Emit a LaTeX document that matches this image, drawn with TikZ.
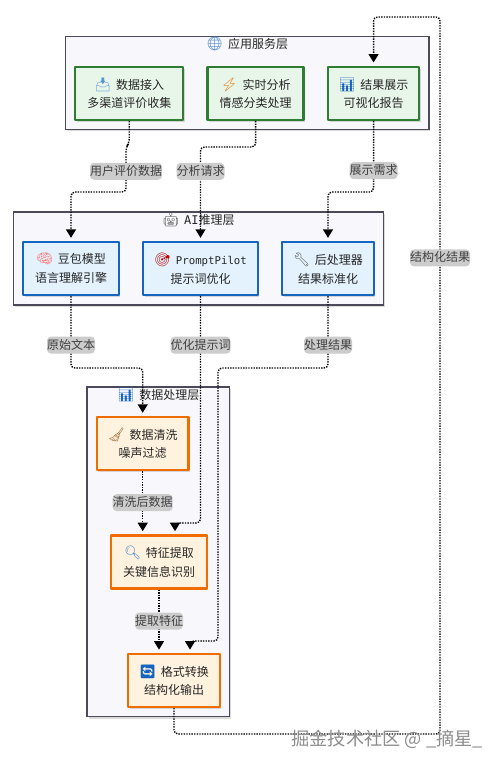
\documentclass[tikz,border=0pt]{standalone}
\usepackage{fontspec}
\usepackage{xcolor}
\usepackage{tikz}
\usetikzlibrary{arrows.meta,backgrounds,fit,positioning,shadows}
\setmainfont{Noto Sans CJK SC}
\newfontfamily\emojifont{Noto Emoji}
\newfontfamily\codefont{DejaVu Sans Mono}
\newcommand{\icon}[2]{{\emojifont\fontsize{13.5}{14}\selectfont\textcolor{#1}{#2}}\hspace{2pt}}
\definecolor{appline}{HTML}{2E7D32}
\definecolor{appfill}{HTML}{E8F5E9}
\definecolor{ailine}{HTML}{1565C0}
\definecolor{aifill}{HTML}{E3F2FD}
\definecolor{dataline}{HTML}{EF6C00}
\definecolor{datafill}{HTML}{FFF3E0}
\definecolor{layerline}{HTML}{4A4A5A}
\definecolor{layerfill}{HTML}{F8F8FC}
\definecolor{labelfill}{HTML}{CCCCCC}
\tikzset{
every picture/.style={line cap=butt,line join=round},
soft shadow/.style={drop shadow={shadow xshift=1.5pt,shadow yshift=-2pt,opacity=0.14,fill=black}},
layer box/.style={
  draw=layerline,
  fill=layerfill,
  line width=1.7pt,
  inner sep=8.5pt,
  soft shadow
},
layer title/.style={font=\fontsize{12}{14}\selectfont, text=black!85, inner sep=0pt},
step box/.style={
  line width=2.4pt,
  minimum height=53pt,
  align=center,
  inner sep=2pt,
  text=black!85,
  font=\fontsize{12}{18.5}\selectfont,
  soft shadow
},
app box/.style={step box, draw=appline, fill=appfill},
ai box/.style={step box, draw=ailine, fill=aifill},
data box/.style={step box, draw=dataline, fill=datafill},
fig flow/.style={
  draw=black,
  -{Triangle[length=8.5pt,width=10pt]},
  line width=1.4pt,
  dash pattern=on 1.4pt off 1.2pt,
  rounded corners=4pt,
  shorten >=3pt
},
flow label/.style={
  fill=labelfill,
  text=black!75,
  font=\fontsize{12}{14}\selectfont,
  inner sep=0pt,
  minimum height=17pt,
  text height=10pt,
  text depth=2pt
}
}
\begin{document}
\begin{tikzpicture}[x=1pt,y=-1pt]
\useasboundingbox (0,0) rectangle (500,766);
% application layer
\node[app box,minimum width=108pt] (dataIn) at (129.25,93.2) {\icon{ailine!70}{📥} 数据接入\\多渠道评价收集};
\node[app box,minimum width=96pt,right=22pt of dataIn] (realtime) {\icon{orange!90!black}{⚡} 实时分析\\情感分类处理};
\node[app box,minimum width=91pt,right=22pt of realtime] (report) {\icon{ailine}{📊} 结果展示\\可视化报告};
% inference layer
\node[ai box,minimum width=95.6pt] (doubao) at (71,268.5) {\icon{pink!60!red}{🧠} 豆包模型\\语言理解引擎};
\node[ai box,minimum width=114.6pt,right=22pt of doubao] (prompt) {\icon{red!75!black}{🎯} {\codefont\fontsize{10.7}{18.5}\selectfont PromptPilot}\\提示词优化};
\node[ai box,minimum width=91.6pt,right=22pt of prompt] (postproc) {\icon{black!65}{🔧} 后处理器\\结果标准化};
% data layer
\node[data box,minimum width=91.6pt] (clean) at (142.7,443.5) {\icon{brown!80!black}{🧹} 数据清洗\\噪声过滤};
\node[data box,minimum width=95.6pt,below=63pt of clean,xshift=16.3pt] (feature) {\icon{ailine!80}{🔍} 特征提取\\关键信息识别};
\node[data box,minimum width=91.6pt,below=63pt of feature,xshift=15pt] (format) {\icon{ailine}{🔄} 格式转换\\结构化输出};
% layer frames go behind the boxes
\coordinate (appTop) at ([yshift=20.5pt]dataIn.north);
\coordinate (aiTop) at ([yshift=20.5pt]doubao.north);
\coordinate (dataTop) at ([yshift=20.5pt]clean.north);
\begin{scope}[on background layer]
\node[layer box,fit=(dataIn)(report)(appTop)] (appLayer) {};
\node[layer box,fit=(doubao)(postproc)(aiTop)] (aiLayer) {};
\node[layer box,fit=(clean)(format)(dataTop)] (dataLayer) {};
\end{scope}
\node[layer title] (appTitle) at ([yshift=-8.5pt]appLayer.north) {\icon{ailine!80}{🌐} 应用服务层};
\node[layer title] (aiTitle) at ([yshift=-9pt]aiLayer.north) {\icon{black!65}{🤖} {\codefont AI}推理层};
\node[layer title] (dataTitle) at ([yshift=-9pt]dataLayer.north) {\icon{ailine}{📊} 数据处理层};
% flows
\draw[fig flow] (dataIn.south) -- (129.25,143) -- (126,147) -- node[flow label,pos=0.54] (userLabel) {用户评价数据} (126,192) -- (doubao.north |- 0,192) -- (doubao.north);
\draw[fig flow] (realtime.south) -- (realtime.south |- 0,147) -- (prompt.north |- 0,147) -- node[flow label,pos=0.26] (askLabel) {分析请求} (prompt.north);
\draw[fig flow] (report.south) -- node[flow label,pos=0.7] (showLabel) {展示需求} (report.south |- 0,192) -- (postproc.north |- 0,192) -- (postproc.north);
\draw[fig flow] (doubao.south) -- node[flow label,pos=0.68] (rawLabel) {原始文本} (doubao.south |- 0,368) -- (clean.north |- 0,368) -- (clean.north);
\draw[fig flow] (prompt.south) -- node[flow label,pos=0.216] (optLabel) {优化提示词} (prompt.south |- 0,523) -- (175,523) -- ([xshift=16pt]feature.north);
\draw[fig flow] (postproc.south) -- node[flow label,pos=0.68] (procLabel) {处理结果} (postproc.south |- 0,368) -- (218,368) -- (218,641) -- (190,641) -- ([xshift=16pt]format.north);
\draw[fig flow] (clean.south) -- node[flow label,pos=0.5] (cleanLabel) {清洗后数据} ([xshift=-16.3pt]feature.north);
\draw[fig flow] (feature.south) -- node[flow label,pos=0.5] (featLabel) {提取特征} ([xshift=-15pt]format.north);
\draw[fig flow] (format.south) -- (format.south |- 0,734) -- (440,734) -- node[flow label,pos=0.664] (outLabel) {结构化结果} (440,17) -- (report.north |- 0,17) -- (report.north);
% site mark
\node[anchor=east,inner sep=0pt,text=black!45,font=\fontsize{18.2}{20}\selectfont] (siteMark) at (483,739) {掘金技术社区 @ \_摘星\_};
\end{tikzpicture}
\end{document}
